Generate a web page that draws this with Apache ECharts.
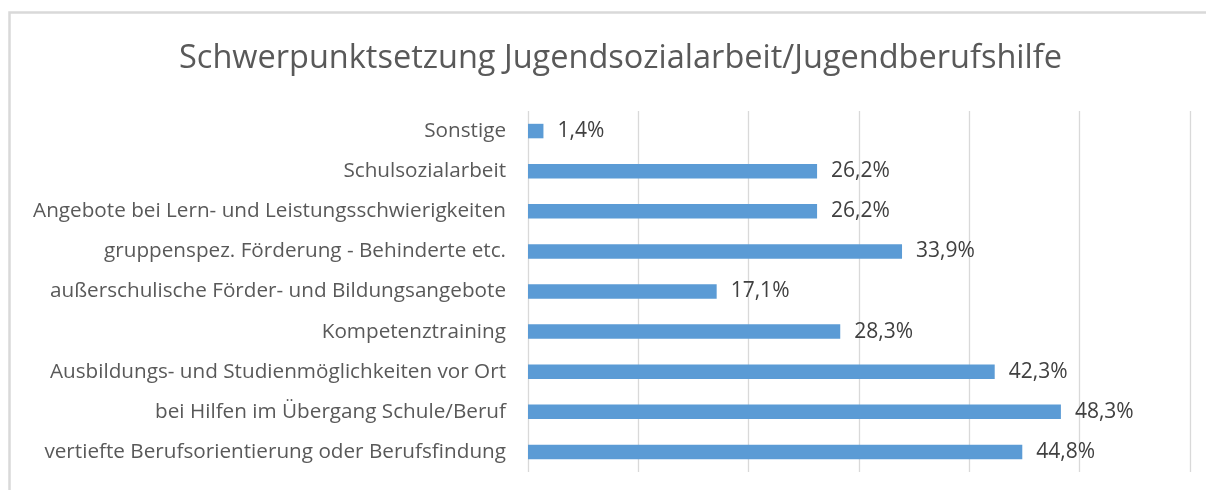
<!DOCTYPE html>
<html><head><meta charset="utf-8">
<script src="https://cdn.jsdelivr.net/npm/echarts@6/dist/echarts.min.js"></script>
<style>html,body{margin:0;padding:0;background:#fff}#c{width:1206px;height:490px}</style>
</head><body><div id="c"></div>
<script>
var titleText = 'Schwerpunktsetzung Jugendsozialarbeit/Jugendberufshilfe';
var categories = [
  'Sonstige',
  'Schulsozialarbeit',
  'Angebote bei Lern- und Leistungsschwierigkeiten',
  'gruppenspez. Förderung - Behinderte etc.',
  'außerschulische Förder- und Bildungsangebote',
  'Kompetenztraining',
  'Ausbildungs- und Studienmöglichkeiten vor Ort',
  'bei Hilfen im Übergang Schule/Beruf',
  'vertiefte Berufsorientierung oder Berufsfindung'
];
var values = [1.4, 26.2, 26.2, 33.9, 17.1, 28.3, 42.3, 48.3, 44.8];
var axisMin = 0, axisMax = 60, axisStep = 10;

var font = '"Open Sans", Lato, sans-serif';
var chart = echarts.init(document.getElementById('c'));
chart.setOption({
  animation: false,
  backgroundColor: '#fff',
  graphic: [{
    type: 'rect', silent: true,
    shape: {x: 9.5, y: 12.5, width: 1300, height: 600},
    style: {fill: 'none', stroke: '#d9d9d9', lineWidth: 2.5}
  }],
  title: {
    text: titleText, left: 174, top: 37,
    textStyle: {fontFamily: font, fontSize: 32.5, fontWeight: 'normal', color: '#595959'}
  },
  grid: {left: 528, right: 16, top: 111, bottom: 18, containLabel: false},
  xAxis: {
    type: 'value', min: axisMin, max: axisMax, interval: axisStep,
    axisLabel: {show: false}, axisTick: {show: false}, axisLine: {show: false},
    splitLine: {show: true, lineStyle: {color: '#d9d9d9', width: 1.3}}
  },
  yAxis: {
    type: 'category', data: categories, inverse: true,
    axisLine: {show: false}, axisTick: {show: false},
    axisLabel: {margin: 22, fontFamily: font, fontSize: 20.7, color: '#595959'}
  },
  series: [{
    type: 'bar', data: values, barWidth: 14.5,
    itemStyle: {color: '#5b9bd5'},
    label: {
      show: true, position: 'right', distance: 14,
      fontFamily: font, fontSize: 21, color: '#404040',
      formatter: function (p) { return p.value.toFixed(1).replace('.', ',') + '%'; }
    }
  }]
});
</script></body></html>
